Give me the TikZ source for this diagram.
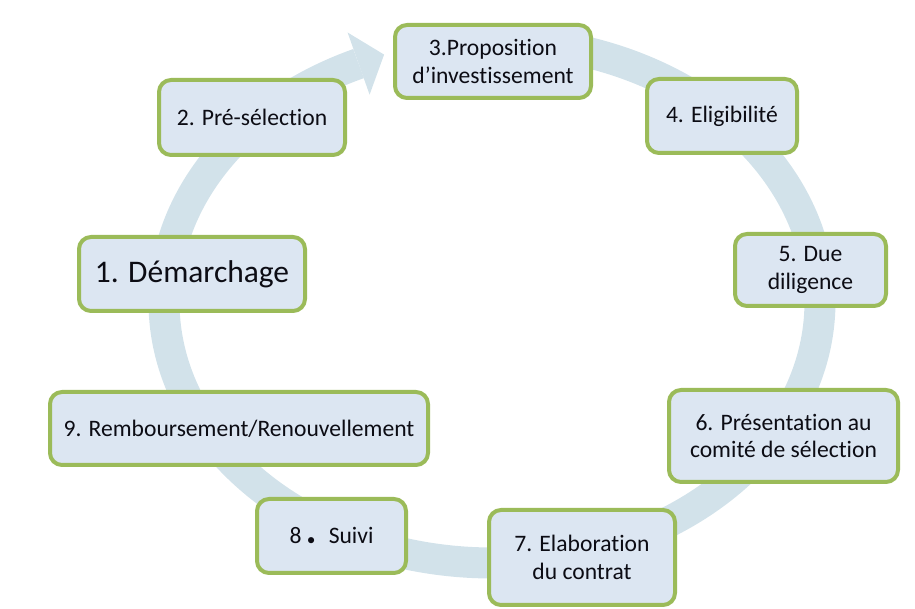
\documentclass[tikz,border=0pt]{standalone}
\usepackage{fontspec}
\setmainfont{Carlito}[RawFeature={-liga;-dlig;-clig}]
\definecolor{boxgreen}{RGB}{155,187,89}
\definecolor{boxfill}{RGB}{220,230,242}
\definecolor{bandblue}{RGB}{210,226,234}
\definecolor{txt}{RGB}{12,12,20}
\begin{document}
\begin{tikzpicture}[x=0.75pt,y=-0.75pt,
  stepbox/.style={draw=boxgreen, line width=3pt, fill=boxfill, rounded corners=9pt,
    align=center, inner sep=0pt, text=txt, font=\fontsize{17.7}{20.5}\selectfont},
  band/.style={draw=bandblue, line width=23.25pt, line cap=butt},
  bandhead/.style={fill=bandblue, draw=none}]
\useasboundingbox (0,0) rectangle (915,609);
% circular band
\draw[band] plot[domain=-246:100, samples=240, smooth] ({492+328*cos(\x)}, {302-261*sin(\x)});
\coordinate (tipA) at (347.6,32.5);
\coordinate (tipB) at (384.1,54.6);
\coordinate (tipC) at (369.6,94.7);
\fill[bandhead] (tipA) -- (tipB) -- (tipC) -- cycle;
% steps
\node[stepbox, minimum width=226*0.75pt, minimum height=74*0.75pt,
  font=\fontsize{23.6}{27}\selectfont] (n1) at (192,274) {1. Démarchage};
\node[stepbox, minimum width=186*0.75pt, minimum height=75*0.75pt] (n2) at (252,117.5) {2. Pré-sélection};
\node[stepbox, minimum width=196*0.75pt, minimum height=73*0.75pt] (n3) at (493,61.5) {3.Proposition\\d’investissement};
\node[stepbox, minimum width=150*0.75pt, minimum height=74*0.75pt] (n4) at (722,116) {4. Eligibilité};
\node[stepbox, minimum width=151*0.75pt, minimum height=72*0.75pt] (n5) at (810.5,270) {5. Due\\diligence};
\node[stepbox, minimum width=229*0.75pt, minimum height=92*0.75pt] (n6) at (783.5,436) {6. Présentation au\\comité de sélection};
\node[stepbox, minimum width=186*0.75pt, minimum height=95*0.75pt] (n7) at (582,557.5) {7. Elaboration\\du contrat};
\node[stepbox, minimum width=149*0.75pt, minimum height=74*0.75pt] (n8) at (331.5,536) {8\hspace{4pt}\raisebox{-1.5pt}{\fontsize{13}{13}\selectfont •}\hspace{10pt}Suivi};
\node[stepbox, minimum width=378*0.75pt, minimum height=73*0.75pt] (n9) at (239,428.5) {9. Remboursement/Renouvellement};
\end{tikzpicture}
\end{document}
